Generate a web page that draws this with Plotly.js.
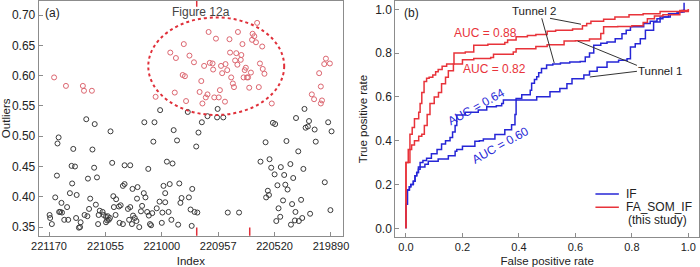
<!DOCTYPE html>
<html><head><meta charset="utf-8">
<script src="https://cdn.plot.ly/plotly-3.0.1.min.js"></script>
<style>html,body{margin:0;padding:0;background:#fff}#chart{width:700px;height:267px}</style>
</head><body><div id="chart"></div>
<script>
// ---- Panel (a): outlier scores by sample position (tick index units) ----
const indexTickPos = [0,1,2,3,4,5];
const indexTickText = ['221170','221055','221000','220957','220520','219890'];

const redIdx = [0.09,0.30,0.60,0.62,0.76,1.89,2.15,2.25,2.39,2.37,
 2.41,2.23,2.43,2.49,2.57,2.83,2.96,2.75,2.70,2.67,
 2.72,2.78,2.81,2.85,2.90,2.91,2.93,3.01,3.03,3.05,
 3.07,3.13,3.16,3.12,3.20,3.21,3.23,3.26,3.28,3.30,
 3.32,3.35,3.34,3.40,3.41,3.43,3.45,3.47,3.49,3.51,
 3.53,3.58,3.55,3.60,3.61,3.64,3.67,3.69,3.72,3.74,
 3.78,3.79,3.82,3.95,4.79,4.82,4.70,4.84,4.82,4.88,
 4.91,4.98,4.66];
const redVal = [0.597,0.583,0.583,0.575,0.575,0.565,0.638,0.629,0.652,0.601,
 0.599,0.572,0.558,0.633,0.622,0.672,0.661,0.616,0.591,0.573,
 0.554,0.564,0.569,0.621,0.620,0.610,0.564,0.564,0.576,0.616,
 0.604,0.619,0.609,0.557,0.660,0.638,0.597,0.587,0.581,0.625,
 0.637,0.672,0.618,0.626,0.634,0.652,0.597,0.609,0.613,0.597,
 0.597,0.605,0.580,0.659,0.669,0.665,0.655,0.687,0.581,0.620,
 0.648,0.611,0.603,0.554,0.604,0.582,0.561,0.559,0.554,0.619,
 0.628,0.620,0.569];

const blackIdx = [1.97,2.46,2.99,2.98,3.09,2.81,0.66,0.81,1.69,1.87,
 2.71,1.09,2.21,2.65,3.97,4.01,4.38,4.53,4.61,4.55,
 4.59,4.71,4.95,5.01,0.17,0.15,0.43,0.77,1.85,2.27,
 2.61,0.14,0.40,0.46,0.80,1.12,1.34,1.44,1.76,2.09,
 2.19,0.69,0.85,0.41,0.37,0.49,0.11,0.22,0.73,0.83,
 0.32,0.20,0.23,0.18,0.01,0.02,0.05,0.27,0.34,0.48,
 0.56,0.53,0.55,0.63,0.68,0.88,0.87,0.90,0.95,0.97,
 1.01,1.04,1.01,1.03,1.06,1.08,1.14,1.19,1.15,1.18,
 1.24,1.27,1.25,1.31,1.31,1.34,1.40,1.44,1.42,1.48,
 1.56,1.57,1.49,1.52,1.47,1.55,1.60,1.65,1.68,1.63,
 1.71,1.74,1.77,1.79,1.81,1.83,1.91,1.96,2.00,2.01,
 2.03,2.06,2.06,2.12,2.14,2.17,2.33,2.35,2.31,2.29,
 2.48,2.51,2.54,2.53,2.58,2.63,3.17,3.37,3.75,3.84,
 3.91,3.94,4.00,3.85,3.90,3.88,4.05,4.07,4.10,4.03,
 4.11,4.17,4.15,4.19,4.21,4.23,4.28,4.31,4.33,4.37,
 4.29,4.36,4.42,4.43,4.47,4.49,4.51,4.63,4.73,4.89,
 4.99,0.71];
const blackVal = [0.543,0.540,0.545,0.531,0.531,0.533,0.528,0.520,0.523,0.523,
 0.523,0.508,0.510,0.506,0.522,0.520,0.530,0.545,0.525,0.514,
 0.516,0.511,0.523,0.508,0.498,0.488,0.479,0.478,0.491,0.493,
 0.483,0.435,0.451,0.450,0.448,0.456,0.452,0.452,0.446,0.458,
 0.455,0.430,0.432,0.422,0.406,0.403,0.399,0.390,0.397,0.387,
 0.383,0.375,0.374,0.375,0.370,0.365,0.355,0.362,0.362,0.365,
 0.358,0.349,0.350,0.370,0.368,0.370,0.355,0.377,0.375,0.370,
 0.367,0.368,0.358,0.361,0.362,0.365,0.401,0.396,0.383,0.370,
 0.384,0.386,0.357,0.355,0.418,0.421,0.380,0.383,0.362,0.413,
 0.397,0.416,0.369,0.365,0.355,0.360,0.350,0.385,0.406,0.376,
 0.399,0.375,0.369,0.355,0.353,0.373,0.381,0.392,0.357,0.374,
 0.418,0.406,0.391,0.375,0.421,0.362,0.390,0.398,0.422,0.354,
 0.399,0.379,0.413,0.352,0.375,0.374,0.374,0.374,0.458,0.490,
 0.462,0.448,0.437,0.399,0.403,0.410,0.419,0.381,0.367,0.360,
 0.449,0.436,0.394,0.420,0.492,0.412,0.454,0.388,0.431,0.375,
 0.354,0.361,0.475,0.360,0.395,0.365,0.446,0.372,0.491,0.424,
 0.378,0.380];

// ---- Panel (b): ROC curves (step corners) ----
const fprIF2 = [0,0,0.005,0.012,0.017,0.026,0.032,0.038,0.044,0.05,
 0.06,0.073,0.09,0.11,0.126,0.14,0.156,0.165,0.174,0.18,
 0.21,0.256,0.286,0.32,0.339,0.345,0.39,0.41,0.44,0.445,
 0.455,0.463,0.47,0.48,0.498,0.52,0.547,0.58,0.617,0.635,
 0.65,0.665,0.69,0.712,0.741,0.765,0.78,0.795,0.842,0.865,
 0.889,0.91,0.936,0.96,0.978,0.985,0.985];
const tprIF2 = [0,0.11,0.175,0.19,0.20,0.215,0.24,0.255,0.28,0.30,
 0.31,0.32,0.34,0.36,0.385,0.40,0.415,0.44,0.47,0.517,
 0.53,0.54,0.555,0.56,0.57,0.586,0.593,0.61,0.631,0.662,
 0.68,0.692,0.71,0.73,0.746,0.75,0.755,0.76,0.762,0.782,
 0.80,0.836,0.845,0.851,0.866,0.889,0.905,0.92,0.935,0.945,
 0.957,0.965,0.98,0.988,0.995,1.0,1.03];
const fprIF1 = [0,0,0.005,0.012,0.017,0.026,0.032,0.038,0.044,0.05,
 0.067,0.079,0.114,0.15,0.174,0.18,0.20,0.244,0.26,0.274,
 0.315,0.35,0.374,0.386,0.39,0.463,0.51,0.545,0.57,0.588,
 0.63,0.65,0.677,0.712,0.753,0.783,0.795,0.812,0.83,0.848,
 0.877,0.90,0.93,0.966,0.985];
const tprIF1 = [0,0.11,0.175,0.19,0.20,0.215,0.24,0.255,0.27,0.28,
 0.293,0.306,0.316,0.331,0.352,0.36,0.375,0.397,0.40,0.408,
 0.428,0.45,0.473,0.52,0.586,0.601,0.624,0.639,0.66,0.683,
 0.70,0.717,0.736,0.759,0.767,0.774,0.828,0.843,0.866,0.904,
 0.942,0.965,0.98,0.988,1.0];
const fprFA2 = [0,0,0.008,0.014,0.022,0.03,0.045,0.05,0.056,0.064,
 0.073,0.082,0.095,0.105,0.114,0.128,0.144,0.17,0.21,0.24,
 0.29,0.35,0.36,0.39,0.43,0.46,0.50,0.53,0.59,0.625,
 0.64,0.655,0.70,0.74,0.79,0.84,0.90,0.97,1.0];
const tprFA2 = [0,0.30,0.36,0.43,0.46,0.50,0.53,0.57,0.62,0.67,
 0.685,0.69,0.70,0.715,0.725,0.74,0.75,0.80,0.805,0.836,
 0.84,0.848,0.86,0.875,0.88,0.885,0.90,0.905,0.91,0.925,
 0.935,0.945,0.955,0.965,0.975,0.98,0.99,0.995,1.0];
const fprFA1 = [0,0,0.014,0.02,0.03,0.045,0.056,0.065,0.075,0.085,
 0.10,0.115,0.126,0.14,0.15,0.168,0.20,0.24,0.30,0.31,
 0.38,0.39,0.46,0.50,0.56,0.60,0.65,0.69,0.70,0.75,
 0.80,0.84,0.855,0.88,0.91,0.97,1.0];
const tprFA1 = [0,0.30,0.36,0.38,0.40,0.42,0.43,0.47,0.52,0.57,
 0.60,0.62,0.66,0.69,0.72,0.75,0.77,0.775,0.78,0.795,
 0.805,0.82,0.83,0.838,0.855,0.857,0.865,0.89,0.92,0.922,
 0.925,0.94,0.957,0.97,0.975,0.99,1.0];

const FONT = 'Liberation Sans, Arial, sans-serif';
const RED = '#e8333a', BLUE = '#2626d6', RED_PT = '#dc6670', BLK_PT = '#3a3a3a';
const TXT = '#222';

const traces = [
  {x: blackIdx, y: blackVal, xaxis:'x', yaxis:'y', type:'scatter', mode:'markers',
   marker:{symbol:'circle-open', size:5, color:BLK_PT, line:{width:1}}, showlegend:false},
  {x: redIdx, y: redVal, xaxis:'x', yaxis:'y', type:'scatter', mode:'markers',
   marker:{symbol:'circle-open', size:5, color:RED_PT, line:{width:1}}, showlegend:false},
  {x: fprIF1, y: tprIF1, xaxis:'x2', yaxis:'y2', type:'scatter', mode:'lines', name:'IF',
   line:{color:BLUE, width:1.5, shape:'hv'}, showlegend:false},
  {x: fprIF2, y: tprIF2, xaxis:'x2', yaxis:'y2', type:'scatter', mode:'lines', name:'IF',
   line:{color:BLUE, width:1.5, shape:'hv'}, showlegend:false},
  {x: fprFA1, y: tprFA1, xaxis:'x2', yaxis:'y2', type:'scatter', mode:'lines', name:'FA_SOM_IF',
   line:{color:RED, width:1.5, shape:'hv'}, showlegend:false},
  {x: fprFA2, y: tprFA2, xaxis:'x2', yaxis:'y2', type:'scatter', mode:'lines', name:'FA_SOM_IF',
   line:{color:RED, width:1.5, shape:'hv'}, showlegend:false}
];

const axBase = {showgrid:false, zeroline:false, showline:true, mirror:true, linecolor:'#8c8c8c',
  linewidth:1, ticks:'inside', ticklen:4, tickcolor:'#8c8c8c', tickfont:{family:FONT, size:12, color:TXT}};
const xTickFont = {family:FONT, size:11, color:TXT};
const titleFont = {family:FONT, size:11.5, color:TXT};

function ann(x, y, text, opts) {
  return Object.assign({x:x, y:y, xref:'x2', yref:'y2', text:text, showarrow:false,
    font:{family:FONT, size:11.5, color:TXT}}, opts || {});
}

const layout = {
  width:700, height:267, margin:{l:0, r:0, t:1, b:29},
  paper_bgcolor:'#fff', plot_bgcolor:'#fff', showlegend:false,
  font:{family:FONT, size:12, color:TXT},
  xaxis: Object.assign({}, axBase, {domain:[0.0553,0.49], anchor:'y', range:[-0.183,5.213],
    tickvals:indexTickPos, ticktext:indexTickText, tickfont:xTickFont,
    title:{text:'Index', font:titleFont, standoff:7}}),
  yaxis: Object.assign({}, axBase, {domain:[0.0097,1], anchor:'x', range:[0.3358,0.7231],
    tick0:0.35, dtick:0.05, tickformat:'.2f',
    title:{text:'Outliers', font:titleFont, standoff:2}}),
  xaxis2: Object.assign({}, axBase, {domain:[0.5647,0.9986], anchor:'y2', range:[-0.0379,1.0379],
    tick0:0, dtick:0.2, tickformat:'.1f', tickfont:xTickFont,
    title:{text:'False positive rate', font:titleFont, standoff:7}}),
  yaxis2: Object.assign({}, axBase, {domain:[0.003,1], anchor:'x2', range:[-0.041,1.038],
    tick0:0, dtick:0.2, tickformat:'.1f',
    title:{text:'True positive rate', font:titleFont, standoff:5}}),
  shapes: [
    {type:'circle', xref:'x', yref:'y', x0:1.76, x1:4.17, y0:0.535, y1:0.696,
     line:{color:'#e0303a', width:2, dash:'dot'}},
    {type:'line', xref:'x', yref:'y domain', x0:2.619, x1:2.619, y0:0, y1:0.035, line:{color:'#e0303a', width:1.5}},
    {type:'line', xref:'x', yref:'y domain', x0:3.559, x1:3.559, y0:0, y1:0.035, line:{color:'#e0303a', width:1.5}},
    {type:'line', xref:'x', yref:'y domain', x0:2.619, x1:2.619, y0:0.976, y1:1.0, line:{color:'#e0303a', width:1.5}},
    // Tunnel leader lines
    {type:'line', xref:'x2', yref:'y2', x0:0.510, y0:0.959, x1:0.620, y1:0.932, line:{color:'#333', width:1}},
    {type:'line', xref:'x2', yref:'y2', x0:0.481, y0:0.959, x1:0.525, y1:0.755, line:{color:'#333', width:1}},
    {type:'line', xref:'x2', yref:'y2', x0:0.818, y0:0.744, x1:0.608, y1:0.855, line:{color:'#333', width:1}},
    {type:'line', xref:'x2', yref:'y2', x0:0.818, y0:0.717, x1:0.651, y1:0.691, line:{color:'#333', width:1}},
    // legend swatches
    {type:'line', xref:'x2', yref:'y2', x0:0.671, x1:0.754, y0:0.157, y1:0.157, line:{color:BLUE, width:1.5}},
    {type:'line', xref:'x2', yref:'y2', x0:0.671, x1:0.754, y0:0.096, y1:0.096, line:{color:RED, width:1.5}}
  ],
  annotations: [
    {x:0.07, y:0.703, xref:'x', yref:'y', text:'(a)', showarrow:false, font:{family:FONT, size:12, color:TXT}},
    {x:2.70, y:0.705, xref:'x', yref:'y', text:'Figure 12a', showarrow:false, font:{family:FONT, size:12, color:'#444'}},
    ann(0.018, 0.983, '(b)', {font:{family:FONT, size:12, color:TXT}}),
    ann(0.283, 0.892, 'AUC = 0.88', {font:{family:FONT, size:12, color:RED}}),
    ann(0.313, 0.727, 'AUC = 0.82', {font:{family:FONT, size:12, color:RED}}),
    ann(0.248, 0.553, 'AUC = 0.64', {textangle:-29, font:{family:FONT, size:12, color:BLUE}}),
    ann(0.336, 0.380, 'AUC = 0.60', {textangle:-29, font:{family:FONT, size:12, color:BLUE}}),
    ann(0.452, 0.992, 'Tunnel 2'),
    ann(0.900, 0.718, 'Tunnel 1'),
    ann(0.771, 0.157, 'IF', {xanchor:'left', font:{family:FONT, size:12, color:TXT}}),
    ann(0.771, 0.096, 'FA_SOM_IF', {xanchor:'left', font:{family:FONT, size:12, color:TXT}}),
    ann(0.780, 0.040, '(this study)', {xanchor:'left', font:{family:FONT, size:12, color:TXT}})
  ]
};

Plotly.newPlot('chart', traces, layout, {staticPlot:true, displayModeBar:false});
</script></body></html>
